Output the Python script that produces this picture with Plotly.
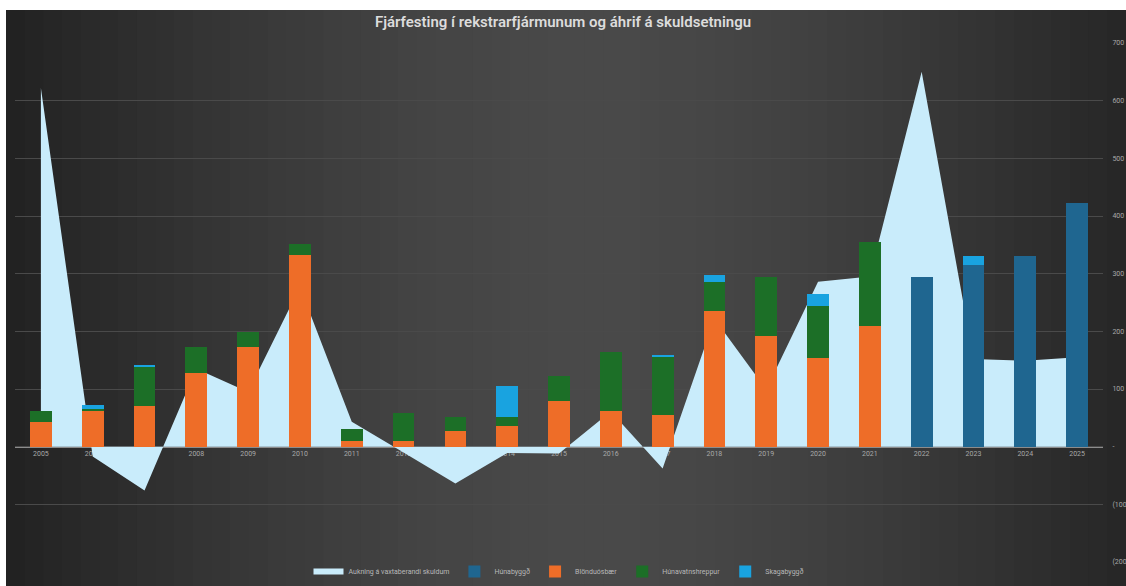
import plotly.graph_objects as go

years = [str(y) for y in range(2005, 2026)]

# Aukning á vaxtaberandi skuldum (area)
aukning = [622, -17, -76, 135, 95, 277, 43, -10, -64, -11, -12, 61, -38,
           222, 99, 286, 295, 650, 152, 149, 155]

hunabyggd = [None] * 17 + [295, 315, 331, 422]
blonduosbaer = [42, 61, 70, 128, 172, 333, 9, 9, 28, 36, 80, 61, 55,
                236, 192, 154, 210, None, None, None, None]
hunavatnshreppur = [19, 5, 69, 44, 27, 18, 22, 50, 24, 16, 43, 104, 101,
                    50, 103, 90, 145, None, None, None, None]
skagabyggd = [None, 7, 2, None, None, None, None, None, None, 54, None, None, 3,
              12, None, 21, None, None, 16, None, None]

tick_vals = [-200, -100, 0, 100, 200, 300, 400, 500, 600, 700]
tick_text = ['(200)', '(100)', '-', '100', '200', '300', '400', '500', '600', '700']

W, H = 1126, 586
ML, MR, MT, MB = 15, 23, 43, 24
pw, ph = W - ML - MR, H - MT - MB

fig = go.Figure()

# area behind the bars (primary axes)
fig.add_trace(go.Scatter(x=years, y=aukning, name='Aukning á vaxtaberandi skuldum',
                         mode='none', fill='tozeroy', fillcolor='#c9ecfb',
                         xaxis='x', yaxis='y'))

bar_series = [
    ('Húnabyggð', hunabyggd, '#1f6690'),
    ('Blönduósbær', blonduosbaer, '#ee6d28'),
    ('Húnavatnshreppur', hunavatnshreppur, '#1c6f27'),
    ('Skagabyggð', skagabyggd, '#19a3e0'),
]
for name, vals, col in bar_series:
    fig.add_trace(go.Bar(x=years, y=vals, name=name, marker_color=col,
                         marker_line_width=0, xaxis='x2', yaxis='y2'))

# dark radial-ish background made from vertical strips (white edge top/left like the source)
x0p = (6 - ML) / pw
x1p = (W - ML) / pw
y0p = -MB / ph
y1p = (H - 10 - MB) / ph
n = 60
shapes = []
for i in range(n):
    t = (i + 0.5) / n
    d = abs(t - 0.52) * 2
    g = int(74 - 38 * d ** 1.5)
    shapes.append(dict(type='rect', xref='paper', yref='paper', layer='below',
                       x0=x0p + (x1p - x0p) * i / n, x1=x0p + (x1p - x0p) * (i + 1) / n + 0.001,
                       y0=y0p, y1=y1p,
                       fillcolor=f'rgb({g},{g},{g})', line_width=0))

yr = [-200, 700]
zero_pos = (0 - yr[0]) / (yr[1] - yr[0])

fig.update_layout(
    width=W, height=H,
    margin=dict(l=ML, r=MR, t=MT, b=MB, autoexpand=False),
    paper_bgcolor='white',
    plot_bgcolor='rgba(0,0,0,0)',
    shapes=shapes,
    barmode='stack',
    bargap=0.58,
    title=dict(text='Fjárfesting í rekstrarfjármunum og áhrif á skuldsetningu',
               x=0.5, xanchor='center', y=(H - 22) / H, yanchor='middle',
               font=dict(family='Roboto', size=15, weight=600, color='#dcdcdc')),
    xaxis=dict(type='category', range=[-0.5, 20.5], anchor='free', position=zero_pos,
               showline=True, linecolor='#8c8c8c', linewidth=1, showgrid=False,
               ticks='', layer='below traces', automargin=False,
               tickfont=dict(family='Roboto', size=7, color='#a8a8a8')),
    yaxis=dict(range=yr, side='right', tickvals=tick_vals, ticktext=tick_text,
               showgrid=True, gridcolor='#4a4a4a', gridwidth=1, zeroline=False,
               ticks='outside', ticklen=7, tickcolor='rgba(0,0,0,0)', automargin=False,
               tickfont=dict(family='Roboto', size=7, color='#a8a8a8')),
    xaxis2=dict(type='category', range=[-0.5, 20.5], overlaying='x', visible=False),
    yaxis2=dict(range=yr, overlaying='y', visible=False),
    legend=dict(orientation='h', x=0.5, xanchor='center', xref='paper',
                y=0, yanchor='bottom', yref='container',
                traceorder='normal',
                font=dict(family='Roboto', size=7, color='#b8b8b8'),
                bgcolor='rgba(0,0,0,0)', itemwidth=30),
    showlegend=True,
)

# drop the default body margin so the figure fills the window exactly
fig.write_html("out.html", config={'displayModeBar': False},
               post_script="document.body.style.margin='0';")
